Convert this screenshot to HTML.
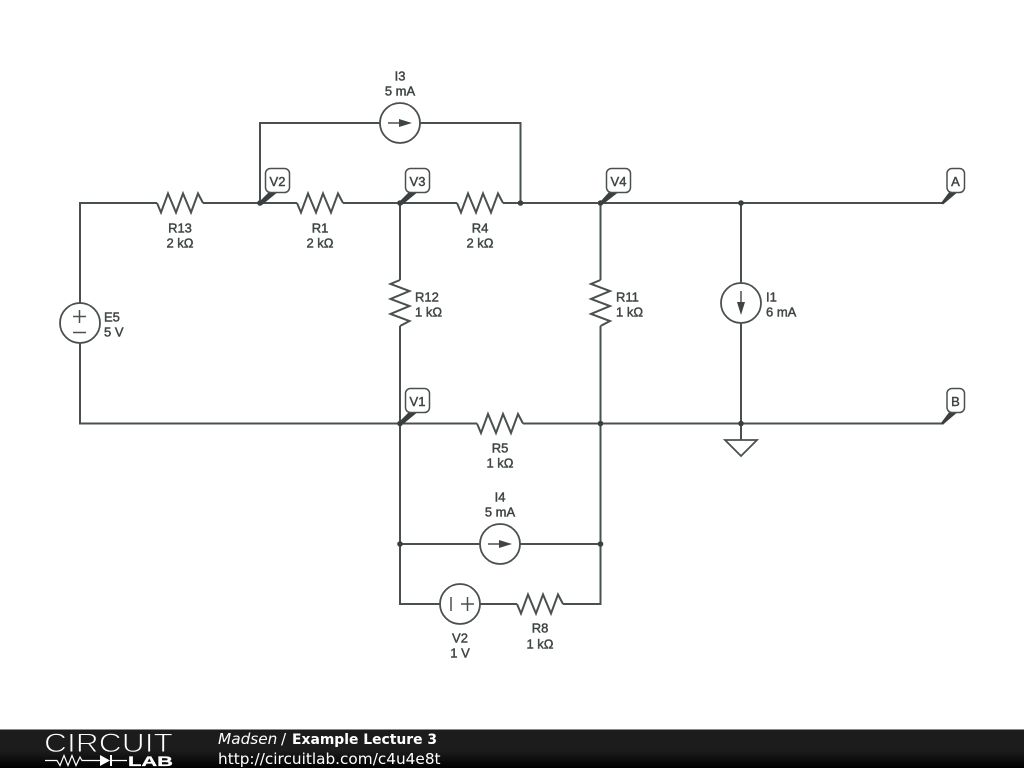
<!DOCTYPE html>
<html>
<head>
<meta charset="utf-8">
<style>
html,body{margin:0;padding:0;background:#fff;width:1024px;height:768px;overflow:hidden}
svg{display:block}
.w{fill:none;stroke:#4a5050;stroke-width:2}
.c{fill:#fff;stroke:#4a5050;stroke-width:1.8}
.t{font-family:"Liberation Sans",sans-serif;font-size:13px;fill:#3f4545;text-anchor:middle;stroke:#3f4545;stroke-width:.45}
.l{text-anchor:start}
.f{font-family:"DejaVu Sans",sans-serif;font-size:15.3px;fill:#fff}
</style>
</head>
<body>
<svg width="1024" height="768" viewBox="0 0 1024 768" xmlns="http://www.w3.org/2000/svg">
<defs>
<linearGradient id="g" x1="0" y1="0" x2="0" y2="1"><stop offset="0" stop-color="#1c1c1c"/><stop offset=".55" stop-color="#1c1c1c"/><stop offset="1" stop-color="#000"/></linearGradient>
<polyline id="rh" class="w" points="-23,0 -19,9.500 -12,-9.500 -4,9.500 3,-9.500 11,9.500 18,-9.500 23,0"/>
</defs>
<rect width="1024" height="768" fill="#fff"/>

<!-- wires -->
<path class="w" d="M80 303V203H157M203 203H297M343 203H457M503 203H943L950 196"/>
<path class="w" d="M80 343V423.500H477M523 423.500H943L950 416"/>
<path class="w" d="M260 203V123H380M420 123H520.500V203"/>
<path class="w" d="M400 203V280M400 326V604H440M480 604H517M563 604H600.500V326M600.500 280V203"/>
<path class="w" d="M400 544H480M520 544H600"/>
<path class="w" d="M741 203V283M741 323V440"/>

<!-- resistors -->
<use href="#rh" transform="translate(180,203)"/>
<use href="#rh" transform="translate(320,203)"/>
<use href="#rh" transform="translate(480,203)"/>
<use href="#rh" transform="translate(500,423.500)"/>
<use href="#rh" transform="translate(540,604)"/>
<use href="#rh" transform="translate(400,303) rotate(90)"/>
<use href="#rh" transform="translate(600.500,303) rotate(90)"/>

<!-- sources -->
<circle class="c" cx="400" cy="123" r="20"/>
<path class="w" d="M388 123H402" style="stroke-width:1.5"/><path d="M399 119L412 123L399 127Z" fill="#3f4545"/>
<circle class="c" cx="500" cy="544" r="20"/>
<path class="w" d="M488 544H502" style="stroke-width:1.5"/><path d="M499 540L512 544L499 548Z" fill="#3f4545"/>
<circle class="c" cx="741" cy="303" r="20"/>
<path class="w" d="M741 291V305" style="stroke-width:1.5"/><path d="M737 302L741 315L745 302Z" fill="#3f4545"/>
<circle class="c" cx="80" cy="323" r="20"/>
<path class="w" d="M73 316.500H86M79.500 310V323M73 332.500H86" style="stroke-width:1.500"/>
<circle class="c" cx="460" cy="604" r="20"/>
<path class="w" d="M451 597V611M461 604H474M467.500 597V611" style="stroke-width:1.500"/>

<!-- ground -->
<path class="c" d="M725 440H757L741 456Z"/>

<!-- junctions -->
<g fill="#3a4040">
<circle cx="260" cy="203" r="2.800"/><circle cx="400" cy="203" r="2.800"/><circle cx="520.500" cy="203" r="2.800"/><circle cx="600.500" cy="203" r="2.800"/><circle cx="741" cy="203" r="2.800"/>
<circle cx="400" cy="423.500" r="2.800"/><circle cx="600.500" cy="423.500" r="2.800"/><circle cx="741" cy="423.500" r="2.800"/>
<circle cx="400" cy="544" r="2.800"/><circle cx="600.500" cy="544" r="2.800"/>
<!-- flag pointers -->
<path d="M259 202L270 191H279L262 205Z"/>
<path d="M399 202L410 191H419L402 205Z"/>
<path d="M600 202L610 191H620L602 205Z"/>
<path d="M399 422L410 411H419L402 425Z"/>
<path d="M941 203L950 191H959L943 204.500Z"/>
<path d="M941 423L950 411H959L943 424.500Z"/>
</g>

<!-- flags -->
<g fill="#fff" stroke="#4a5050" stroke-width="1.500">
<rect x="265.500" y="168.500" width="24" height="24" rx="5"/>
<rect x="405.500" y="168.500" width="24" height="24" rx="5"/>
<rect x="606.500" y="168.500" width="24" height="24" rx="5"/>
<rect x="405.500" y="388.500" width="24" height="24" rx="5"/>
<rect x="947" y="168.500" width="17.500" height="24" rx="5"/>
<rect x="947" y="388.500" width="17.500" height="24" rx="5"/>
</g>
<g transform="translate(0,.4)">
<text class="t" x="277.500" y="185.500">V2</text>
<text class="t" x="417.500" y="185.500">V3</text>
<text class="t" x="618.500" y="185.500">V4</text>
<text class="t" x="417.500" y="405.500">V1</text>
<text class="t" x="955.500" y="185.500">A</text>
<text class="t" x="955.500" y="405.500">B</text>

<text class="t" x="400" y="80">I3</text><text class="t" x="400" y="95">5 mA</text>
<text class="t" x="180" y="232">R13</text><text class="t" x="180" y="247">2 kΩ</text>
<text class="t" x="320" y="232">R1</text><text class="t" x="320" y="247">2 kΩ</text>
<text class="t" x="480" y="232">R4</text><text class="t" x="480" y="247">2 kΩ</text>
<text class="t l" x="415" y="301">R12</text><text class="t l" x="415" y="316">1 kΩ</text>
<text class="t l" x="616" y="301">R11</text><text class="t l" x="616" y="316">1 kΩ</text>
<text class="t l" x="766" y="301">I1</text><text class="t l" x="766" y="316">6 mA</text>
<text class="t l" x="104" y="321">E5</text><text class="t l" x="104" y="336">5 V</text>
<text class="t" x="500" y="452">R5</text><text class="t" x="500" y="467">1 kΩ</text>
<text class="t" x="500" y="501">I4</text><text class="t" x="500" y="516">5 mA</text>
<text class="t" x="540" y="632">R8</text><text class="t" x="540" y="648">1 kΩ</text>
<text class="t" x="460" y="642">V2</text><text class="t" x="460" y="657">1 V</text>
</g>

<!-- footer -->
<rect x="0" y="729" width="1024" height="39" fill="url(#g)"/>
<rect x="0" y="729" width="1024" height="1" fill="#8a8a8a"/>
<text x="44" y="752" font-family="'Liberation Sans',sans-serif" font-size="26.500" fill="#fff" stroke="#1c1c1c" stroke-width=".9" textLength="129" lengthAdjust="spacingAndGlyphs">CIRCUIT</text>
<path d="M45 760.500H57L60 765.500L64 755.500L68 765.500L72 755.500L76 765.500L80 757L82 760.500H100M112 760.500H127" fill="none" stroke="#fff" stroke-width="1.200"/>
<path d="M100 755V766L110 760.500Z" fill="#fff"/><rect x="110" y="755" width="2" height="11" fill="#fff"/>
<text x="128" y="766" font-family="'Liberation Sans',sans-serif" font-weight="bold" font-size="14" fill="#fff" stroke="#fff" stroke-width=".3" textLength="45" lengthAdjust="spacingAndGlyphs">LAB</text>
<text class="f" x="218" y="744" font-style="italic">Madsen</text>
<text class="f" x="281" y="744">/</text>
<text class="f" x="292" y="744" font-weight="bold" style="font-size:13.900px">Example Lecture 3</text>
<text class="f" x="218" y="764">http://circuitlab.com/c4u4e8t</text>
</svg>
</body>
</html>
